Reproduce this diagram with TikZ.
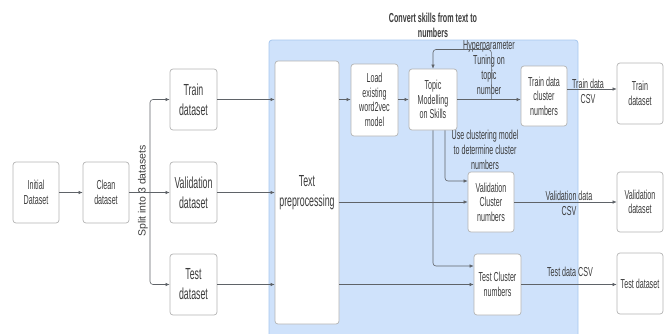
\documentclass[tikz,border=0pt]{standalone}
\usepackage{fontspec}
\setmainfont[FakeStretch=0.55]{Liberation Sans}
\newfontfamily\splitfont{Liberation Sans}
\usetikzlibrary{arrows.meta}
\definecolor{boxline}{HTML}{B4B4B4}
\definecolor{wire}{HTML}{5F6368}
\definecolor{ink}{HTML}{3C3C3C}
\definecolor{panel}{HTML}{CFE2FB}
\definecolor{panelline}{HTML}{A7C7EE}

\begin{document}
\begin{tikzpicture}[x=1pt, y=-1pt,
	every node/.style={text=ink, align=center, inner sep=1pt},
	box/.style={draw=boxline, fill=white, rounded corners=3pt, line width=0.7pt, minimum width=46pt, minimum height=61pt, font=\fontsize{13}{14.5}\selectfont},
	bigbox/.style={box, font=\fontsize{16}{20}\selectfont},
	note/.style={font=\fontsize{13}{15}\selectfont},
	flow/.style={draw=wire, line width=0.6pt, rounded corners=3pt, -{Latex[length=4pt,width=3.5pt]}}]
			\useasboundingbox (0,0) rectangle (667,333);
			\draw[fill=panel, draw=panelline, line width=0.8pt, rounded corners=3pt] (269,40) rectangle (578,340);
			\node[font=\bfseries\fontsize{13}{15}\selectfont] (title) at (433,25) {Convert skills from text to\\numbers};
			
			\node[box] (init) at (36,192.5) {Initial\\Dataset};
			\node[box] (clean) at (106,192.5) {Clean\\dataset};
			\node[bigbox, minimum width=47pt] (train) at (193.5,99.5) {Train\\dataset};
			\node[bigbox, minimum width=47pt] (valid) at (193.5,192.5) {Validation\\dataset};
			\node[bigbox, minimum width=47pt] (test) at (193.5,284.5) {Test\\dataset};
			\node[bigbox, minimum width=64pt, minimum height=263pt] (prep) at (307,192.5) {Text\\preprocessing};
			\node[box, minimum width=47pt, minimum height=72pt] (load) at (374.5,100) {Load\\existing\\word2vec\\model};
			\node[box, minimum width=48pt] (topic) at (433,99.5) {Topic\\Modelling\\on Skills};
			\node[box, minimum height=60pt] (trclu) at (544,96) {Train data\\cluster\\numbers};
			\node[box, minimum height=60pt] (vaclu) at (491,202) {Validation\\Cluster\\numbers};
			\node[box, minimum width=47pt] (teclu) at (497.5,284.5) {Test Cluster\\numbers};
			\node[box] (trout) at (640,93.5) {Train\\dataset};
			\node[box, minimum height=60pt] (vaout) at (640,202) {Validation\\dataset};
			\node[box] (teout) at (640,283.5) {Test dataset};
			
			\node[rotate=90, font=\splitfont\fontsize{10.5}{12}\selectfont] (splitlabel) at (143,191) {Split into 3 datasets};
			\node[note] (tunelabel) at (489,68) {Hyperparameter\\Tuning on\\topic\\number};
			\node[note] (clulabel) at (485,150) {Use clustering model\\to determine cluster\\numbers};
			\node[note] (trcsv) at (588,91) {Train data\\CSV};
			\node[note] (vacsv) at (569,203) {Validation data\\CSV};
			\node[note] (tecsv) at (570,272) {Test data CSV};
			
			\coordinate (split) at (150,192.5);
			\draw[flow] (init) -- (clean);
			\draw[flow] (clean) -- (valid);
			\draw[flow] (split) |- (train);
			\draw[flow] (split) |- (test);
			\draw[flow] (train) -- (train -| prep.west);
			\draw[flow] (valid) -- (valid -| prep.west);
			\draw[flow] (test) -- (test -| prep.west);
			\draw[flow] (topic.west -| prep.east) -- (topic.west -| load.west);
			\draw[flow] (topic.west -| load.east) -- (topic.west);
			\draw[flow] (topic.east) -- (topic.east -| trclu.west);
			\draw[flow] ([xshift=34pt]topic.east) -- ++(0,-50) -| (topic.north);
			\draw[flow] ([yshift=7pt]trclu.east) -- ([yshift=7pt]trclu.east -| trout.west);
			\draw[flow] ([xshift=12pt]topic.south) |- ([yshift=21pt]vaclu.west);
			\draw[flow] (topic.south) |- ([yshift=18.5pt]teclu.west);
			\draw[flow] (vaclu.west -| prep.east) -- (vaclu.west);
			\draw[flow] (teclu.west -| prep.east) -- (teclu.west);
			\draw[flow] (vaclu) -- (vaout);
			\draw[flow] (teclu.east) -- (teclu.east -| teout.west);
			\end{tikzpicture}
\end{document}
